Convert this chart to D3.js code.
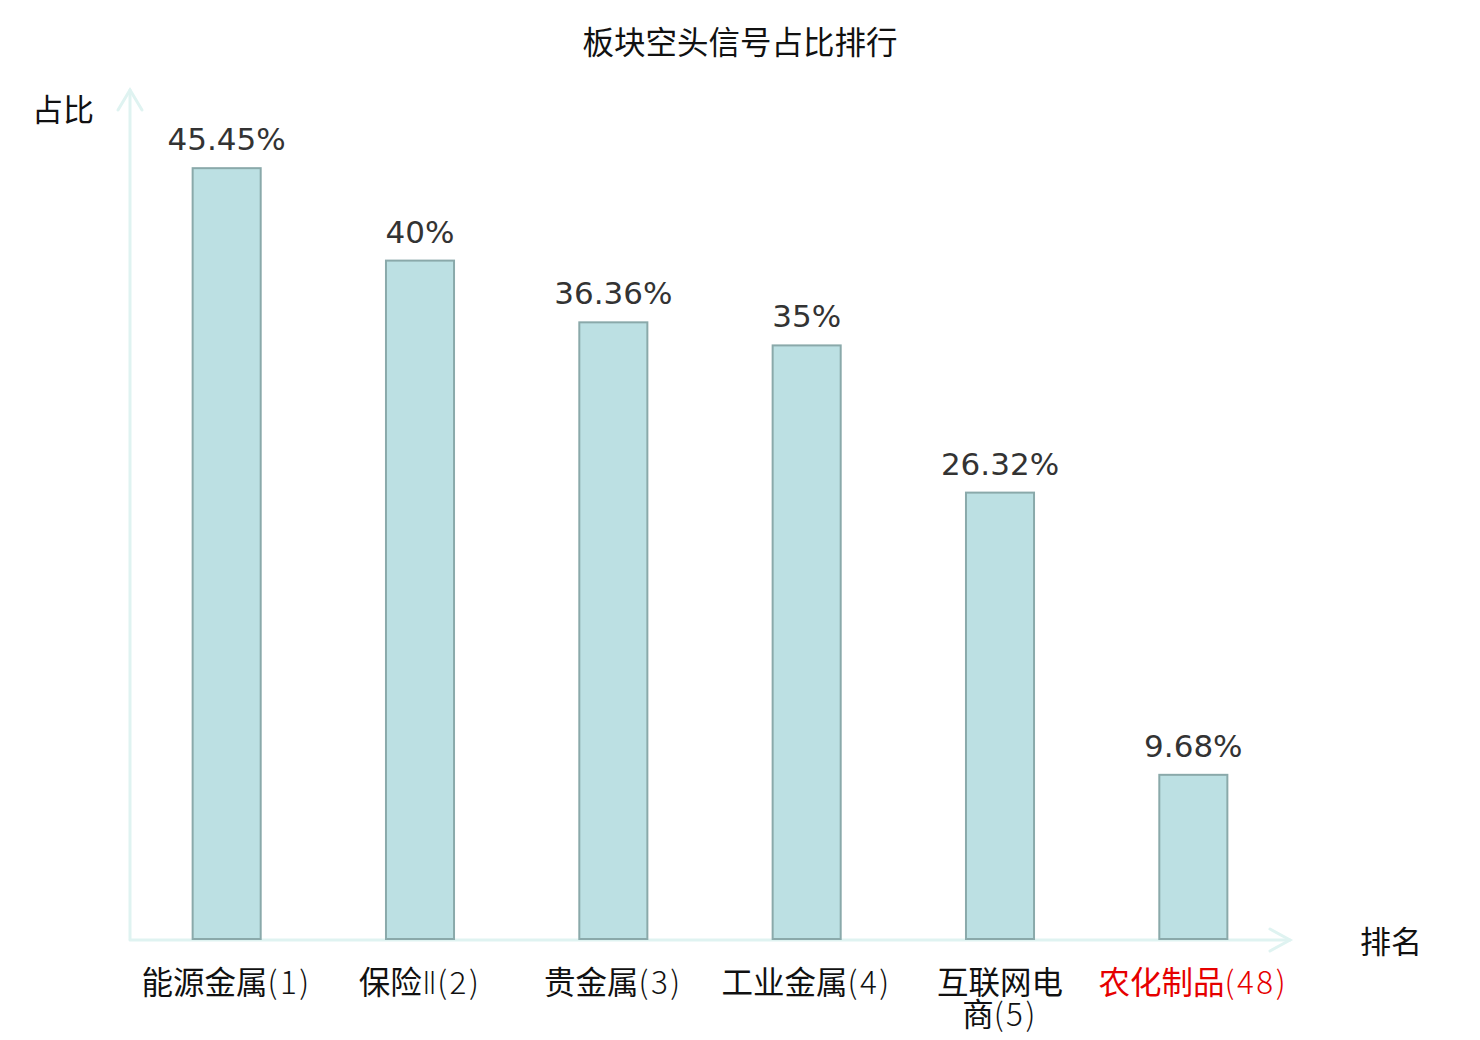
<!DOCTYPE html>
<html>
<head>
<meta charset="utf-8">
<script src="https://cdn.jsdelivr.net/npm/d3@7"></script>
<style>
  html, body { margin: 0; padding: 0; background: #fff; }
  svg { display: block; }
</style>
</head>
<body>
<svg id="chart" width="1480" height="1040"></svg>
<script>
const categories = ["能源金属(1)", "保险Ⅱ(2)", "贵金属(3)", "工业金属(4)", "互联网电\n商(5)", "农化制品(48)"];
const values = [45.45, 40, 36.36, 35, 26.32, 9.68];
const valueLabels = ["45.45%", "40%", "36.36%", "35%", "26.32%", "9.68%"];
const highlighted = [false, false, false, false, false, true];
const title = "板块空头信号占比排行";
const yTitle = "占比";
const xTitle = "排名";

const svg = d3.select("#chart");
const cjk = "'Noto Sans CJK SC', 'DejaVu Sans', sans-serif";
const latin = "'DejaVu Sans', sans-serif";

const x = d3.scaleBand().domain(categories).range([130, 1290]).padding(0);
const y = d3.scaleLinear().domain([0, 50]).range([939, 91]);
const barW = x.bandwidth() * 0.352;
const axisColor = "#dff3f1";

// title
svg.append("text").attr("x", 740).attr("y", 54).attr("text-anchor", "middle")
  .style("font-family", cjk).style("font-size", "31.5px").attr("fill", "#111").text(title);

// axes with arrows
const ax = svg.append("g").attr("stroke", axisColor).attr("stroke-width", 3).attr("fill", "none")
  .attr("stroke-linecap", "round");
ax.append("line").attr("x1", 130).attr("y1", y(0)).attr("x2", 130).attr("y2", y(50) - 1);
ax.append("polyline").attr("points", `118,110 130,${y(50) - 1} 142,110`);
ax.append("line").attr("x1", 130).attr("y1", y(0) + 1).attr("x2", 1290).attr("y2", y(0) + 1);
ax.append("polyline").attr("points", `1270,929 1290,${y(0) + 1} 1270,951`);

// bars
svg.append("g").selectAll("rect").data(categories).join("rect")
  .attr("x", d => x(d) + x.bandwidth() / 2 - barW / 2)
  .attr("y", (d, i) => y(values[i]))
  .attr("width", barW)
  .attr("height", (d, i) => y(0) - y(values[i]))
  .attr("fill", "#bce0e3")
  .attr("stroke", "#8aa9aa")
  .attr("stroke-width", 2);

// value labels
svg.append("g").selectAll("text").data(categories).join("text")
  .attr("x", d => x(d) + x.bandwidth() / 2)
  .attr("y", (d, i) => y(values[i]) - 18)
  .attr("text-anchor", "middle")
  .style("font-family", latin).style("font-size", "31px")
  .attr("fill", "#333")
  .text((d, i) => valueLabels[i]);

// category labels
const cl = svg.append("g").selectAll("text").data(categories).join("text")
  .attr("text-anchor", "middle")
  .style("font-family", cjk).style("font-size", "31.5px")
  .attr("fill", (d, i) => highlighted[i] ? "#e60000" : "#111");
cl.each(function(d) {
  const t = d3.select(this);
  const cx = x(d) + x.bandwidth() / 2;
  d.split("\n").forEach((line, k) => {
    const segs = line.match(/[\u4e00-\u9fff]+|Ⅱ|[^\u4e00-\u9fffⅡ]+/g);
    segs.forEach((s, j) => {
      const ts = t.append("tspan").text(s);
      if (j === 0) ts.attr("x", cx).attr("y", 994 + k * 32);
      if (s === "Ⅱ") {
        ts.style("font-family", latin).style("font-weight", 300);
      } else if (!/[\u4e00-\u9fff]/.test(s)) {
        ts.style("font-weight", 300).style("letter-spacing", "2.5px");
      }
    });
  });
});

// axis titles
svg.append("text").attr("x", 63).attr("y", 121).attr("text-anchor", "middle")
  .style("font-family", cjk).style("font-size", "31px").attr("fill", "#111").text(yTitle);
svg.append("text").attr("x", 1391).attr("y", 953).attr("text-anchor", "middle")
  .style("font-family", cjk).style("font-size", "31px").attr("fill", "#111").text(xTitle);
</script>
</body>
</html>
